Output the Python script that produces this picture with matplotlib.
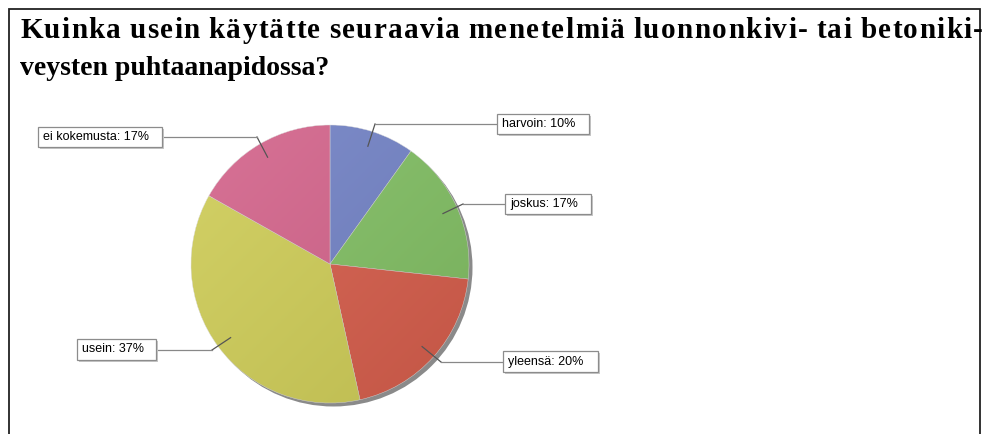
import numpy as np
import matplotlib.pyplot as plt
from matplotlib.patches import Circle, Rectangle
from matplotlib.colors import LinearSegmentedColormap

title_lines = ["Kuinka usein käytätte seuraavia menetelmiä luonnonkivi- tai betoniki-",
               "veysten puhtaanapidossa?"]
categories = ["harvoin", "joskus", "yleensä", "usein", "ei kokemusta"]
shares = [10, 17, 20, 37, 17]
colors = ["#7383c6", "#82bf64", "#d65e4c", "#cfcd58", "#d4658c"]

# label boxes (x0, y0, x1, y1) and leader elbows, pixels from top-left
boxes = [(497, 114, 589, 134), (505, 194, 591, 214), (503, 351, 598, 372),
         (77, 339, 156, 360), (38, 127, 162, 147)]
elbows = [(375, 124), (463, 204), (441, 362), (212, 350), (257, 137)]

W, H = 988, 434
fig = plt.figure(figsize=(W / 100, H / 100), dpi=100)
ax = fig.add_axes([0, 0, 1, 1])
ax.set_xlim(0, W)
ax.set_ylim(0, H)
ax.axis("off")


def py(y):
    return H - y


cx, cy, R = 330, py(264), 139

# frame lines
ax.plot([8.5, 8.5, 979.5, 979.5], [0, py(8.5), py(8.5), 0], color="#222", lw=1.3,
        solid_joinstyle="miter")

# pie shadow
ax.add_patch(Circle((cx + 3.5, cy - 3.5), R, color="#8a8a8a", zorder=1, lw=0))

wedges, _ = ax.pie(shares, colors=colors, startangle=90, counterclock=False,
                   center=(cx, cy), radius=R, frame=True,
                   wedgeprops=dict(linewidth=0.3, edgecolor="#dddddd", zorder=2))

# soft diagonal shading: lighter top-left, darker bottom-right
gx, gy = np.meshgrid(np.linspace(0, 1, 200), np.linspace(0, 1, 200))
shade = (gx + gy) / 2
wb = LinearSegmentedColormap.from_list("wb", ["white", "black"])
im = ax.imshow(shade, extent=(cx - R, cx + R, cy - R, cy + R), cmap=wb,
               vmin=0, vmax=1, alpha=0.09, zorder=2.5, origin="upper")
im.set_clip_path(Circle((cx, cy), R, transform=ax.transData))
ax.set_xlim(0, W)
ax.set_ylim(0, H)
ax.set_aspect("auto")

for w, lbl, val, bx, el in zip(wedges, categories, shares, boxes, elbows):
    mid = np.deg2rad((w.theta1 + w.theta2) / 2)
    ax_x = cx + 0.89 * R * np.cos(mid)
    ax_y = cy + 0.89 * R * np.sin(mid)
    edge = bx[0] if bx[0] > el[0] else bx[2]
    ax.plot([ax_x, el[0]], [ax_y, py(el[1])], color="#555", lw=0.9, zorder=3)
    ax.plot([el[0], edge], [py(el[1]), py(el[1])], color="#888", lw=0.9, zorder=3)
    x0, y0, x1, y1 = bx
    ax.add_patch(Rectangle((x0 + 2, py(y1) - 2), x1 - x0, y1 - y0, fc="#c8c8c8",
                           ec="none", zorder=4))
    ax.add_patch(Rectangle((x0, py(y1)), x1 - x0, y1 - y0, fc="white",
                           ec="#8c8c8c", lw=0.9, zorder=4.5))
    ax.text(x0 + 5, py((y0 + y1) / 2), f"{lbl}: {val}%", ha="left", va="center",
            fontsize=9, family="Liberation Sans", zorder=5)

# title: first line justified to the frame width
fs1 = 21
tkw = dict(fontsize=fs1, family="Liberation Serif", fontweight="bold", color="black",
           va="baseline", ha="left")
renderer = fig.canvas.get_renderer()


def text_w(s):
    t = ax.text(0, 0, s, **tkw)
    wdt = t.get_window_extent(renderer).width
    t.remove()
    return wdt


words = title_lines[0].split()
space_w = fs1 * 100 / 72 * 0.25
word_ws = [text_w(wd) for wd in words]
x_start, x_end = 20, 983
n_gaps = sum(len(wd) - 1 for wd in words) + len(words) - 1
extra = (x_end - x_start - sum(word_ws) - space_w * (len(words) - 1)) / n_gaps
x = x_start
for wd, wdt in zip(words, word_ws):
    for i, ch in enumerate(wd):
        pre = text_w(wd[:i]) if i else 0
        ax.text(x + pre + i * extra, py(38), ch, **tkw)
    x += wdt + (len(wd) - 1) * extra + space_w + extra
ax.text(x_start, py(75), title_lines[1], **dict(tkw, fontsize=20))

fig.savefig("out.png", dpi=100)
